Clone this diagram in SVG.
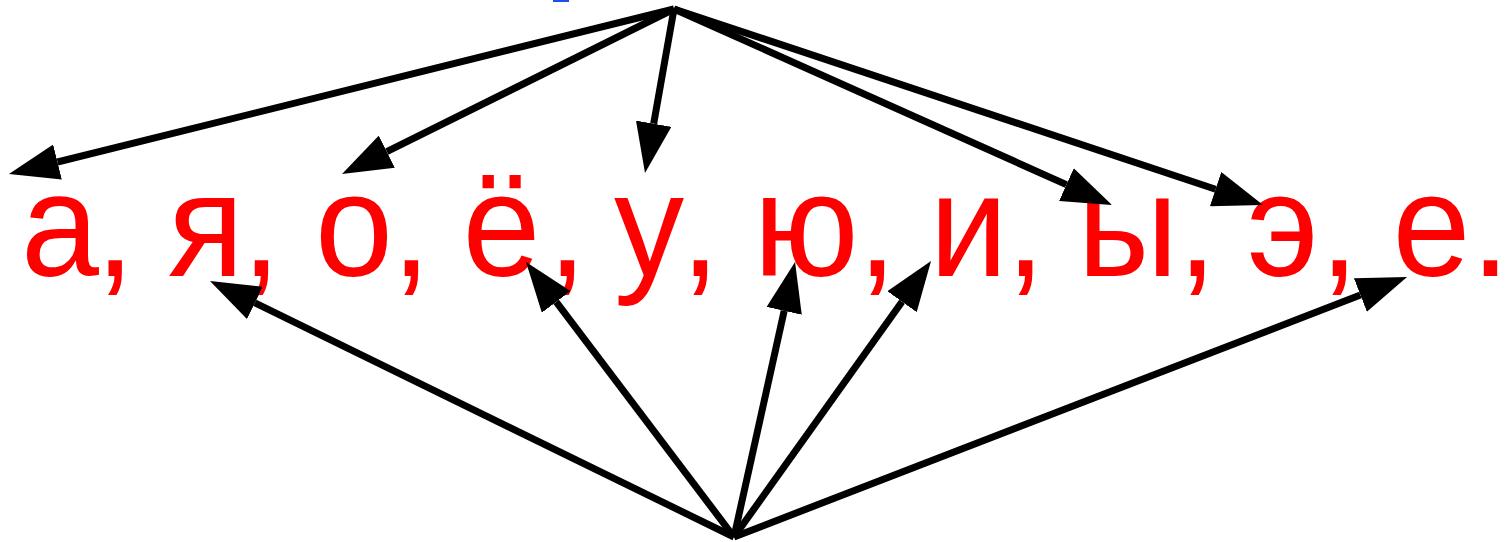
<svg xmlns="http://www.w3.org/2000/svg" width="1512" height="542" viewBox="0 0 1512 542">
<style>
.t{font-family:"Liberation Sans",Arial,sans-serif;font-size:146px;fill:#ff0000}
.c{stroke:#000;stroke-width:7;fill:none;marker-end:url(#ah)}
</style>
<defs>
<marker id="ah" markerUnits="userSpaceOnUse" orient="auto" markerWidth="50" markerHeight="36" viewBox="0 -18 50 36" refX="0" refY="0"><path d="M0,-18 L50,0 L0,18 z" fill="#000"/></marker>
</defs>
<rect x="553" y="0" width="16" height="2" fill="#1f4fe8"/>
<g id="text"><text class="t" transform="scale(0.96,1)" y="276" x="21.9 99.5 125 175 251.9 277.1 328.1 408.2 433.3 481.8 570.7 595.8 639.6 709.2 734.4 785 893.6 918.8 968.3 1047.8 1072.9 1122.5 1226.9 1252.1 1299 1374.8 1400 1450.5 1532.3">а, я, о, ё, у, ю, и, ы, э, е.</text></g>
<g id="connectors">
<line class="c" x1="674" y1="9" x2="57.5" y2="162"/>
<line class="c" x1="674" y1="9" x2="386.8" y2="151.7"/>
<line class="c" x1="674" y1="9" x2="653.7" y2="123.7"/>
<line class="c" x1="674" y1="9" x2="1066.4" y2="184.6"/>
<line class="c" x1="674" y1="9" x2="1215.6" y2="189.2"/>
<line class="c" x1="734" y1="537" x2="254.9" y2="302.9"/>
<line class="c" x1="734" y1="537" x2="556.2" y2="301.9"/>
<line class="c" x1="734" y1="537" x2="784.2" y2="310.8"/>
<line class="c" x1="734" y1="537" x2="902" y2="301.7"/>
<line class="c" x1="734" y1="537" x2="1360.4" y2="295"/>
</g>
</svg>
